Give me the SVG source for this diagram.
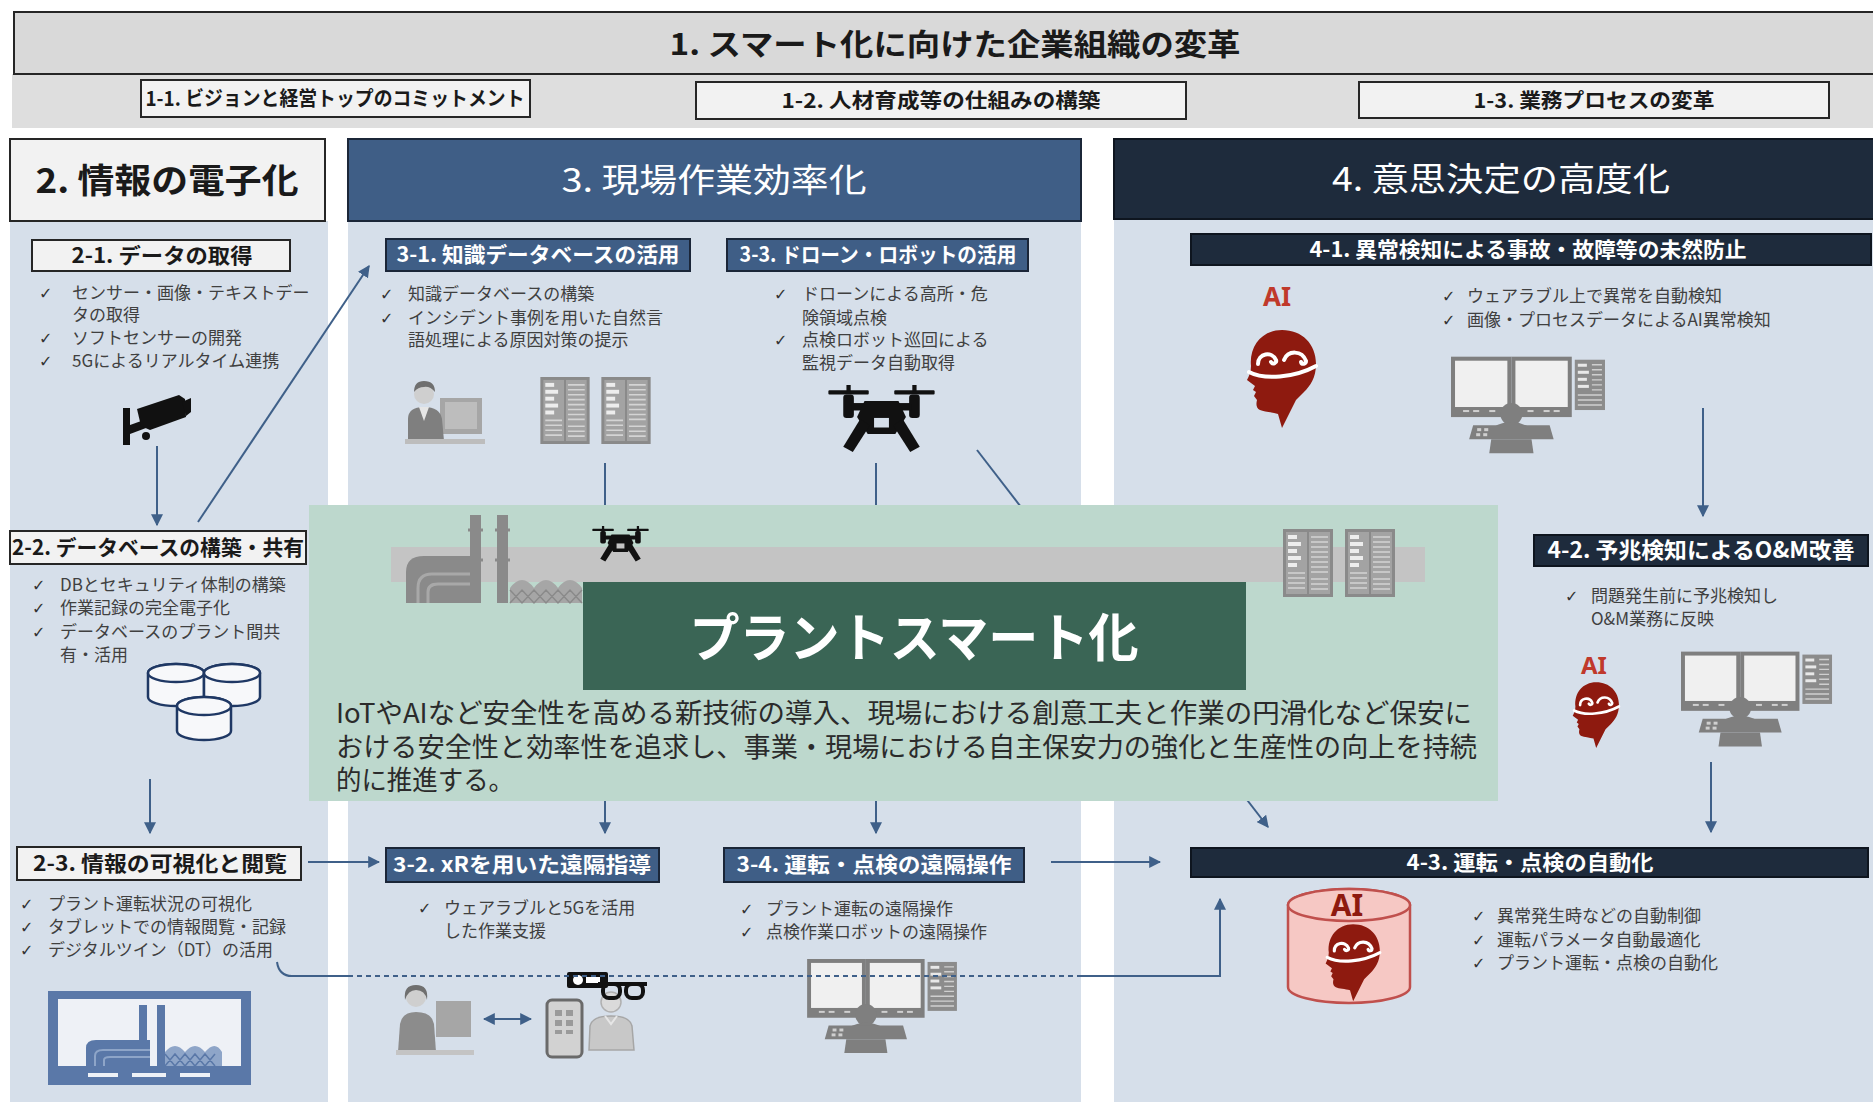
<svg xmlns="http://www.w3.org/2000/svg" width="1873" height="1102" viewBox="0 0 1873 1102">
<style>
  text{font-family:"Noto Sans CJK JP","Noto Sans",sans-serif}
  .ttl{font-weight:bold;fill:#1a1a1a;text-anchor:middle}
  .wt{font-weight:bold;fill:#ffffff;text-anchor:middle}
  .hd{font-weight:normal;fill:#ffffff;text-anchor:middle}
  .bl{font-size:17px;fill:#404040}
  .ck{font-family:"DejaVu Sans",sans-serif;font-size:16px;font-weight:bold;fill:#333333}
  .col{fill:#d6dfea}
  .wbox{fill:#f2f2f2;stroke:#262626;stroke-width:2}
  .bbox{fill:#3f5e86;stroke:#1b2638;stroke-width:2}
  .nbox{fill:#1e2b3c;stroke:#0e151f;stroke-width:2}
  .cn{fill:none;stroke:#3f6089;stroke-width:2}
  .ai{font-family:"Noto Sans","DejaVu Sans",sans-serif;font-weight:bold;text-anchor:middle}
</style>
<defs>
  <marker id="ah" viewBox="0 0 10 10" refX="9" refY="5" markerWidth="6" markerHeight="6" orient="auto-start-reverse">
    <path d="M0,0 L10,5 L0,10 Z" fill="#3f6089"/>
  </marker>
  <!-- quadcopter -->
  <symbol id="drone" viewBox="0 0 100 64">
    <rect x="0" y="5" width="38" height="4" rx="1"/>
    <rect x="62" y="5" width="38" height="4" rx="1"/>
    <rect x="17" y="0" width="4" height="6"/>
    <rect x="79" y="0" width="4" height="6"/>
    <rect x="14" y="9" width="10" height="22" rx="3"/>
    <rect x="76" y="9" width="10" height="22" rx="3"/>
    <rect x="22" y="17" width="56" height="7"/>
    <path d="M34,15 L66,15 L73,30 L63,46 L37,46 L27,30 Z"/>
    <rect x="43" y="31" width="14" height="9" fill="currentColor"/>
    <path d="M30,32 L14,58 L23,63 L39,38 Z"/>
    <path d="M70,32 L86,58 L77,63 L61,38 Z"/>
  </symbol>
  <!-- server cabinet -->
  <symbol id="rack" viewBox="0 0 50 68">
    <rect width="50" height="68" fill="#8a8a8a"/>
    <rect x="3" y="3" width="21" height="62" fill="#a3a3a3"/>
    <rect x="26" y="3" width="21" height="62" fill="#a3a3a3"/>
    <g fill="#ededed">
      <rect x="5" y="6" width="9" height="4"/><rect x="5" y="13" width="13" height="4"/>
      <rect x="5" y="20" width="9" height="4"/><rect x="5" y="27" width="13" height="4"/>
      <rect x="5" y="34" width="9" height="4"/>
    </g>
    <g stroke="#d4d4d4" stroke-width="1.6">
      <path d="M28,8 H45 M28,13 H45 M28,18 H45 M28,23 H45 M28,28 H45 M28,33 H45 M28,38 H45 M28,43 H45"/>
      <path d="M5,44 H22 M5,49 H22 M5,54 H22 M5,59 H22 M28,50 H45 M28,55 H45 M28,60 H45"/>
    </g>
  </symbol>
  <!-- operator at a control desk -->
  <symbol id="desk" viewBox="0 0 155 96">
    <rect x="2" y="2" width="56" height="56" fill="#f0f0f0" stroke="#7f7f7f" stroke-width="4"/>
    <rect x="62" y="2" width="56" height="56" fill="#f0f0f0" stroke="#7f7f7f" stroke-width="4"/>
    <rect x="2" y="50" width="56" height="8" fill="#7f7f7f"/>
    <rect x="62" y="50" width="56" height="8" fill="#7f7f7f"/>
    <g fill="#d0d0d0"><rect x="12" y="53" width="6" height="2"/><rect x="22" y="53" width="6" height="2"/><rect x="38" y="53" width="6" height="2"/><rect x="76" y="53" width="6" height="2"/><rect x="92" y="53" width="6" height="2"/><rect x="102" y="53" width="6" height="2"/></g>
    <rect x="123" y="3" width="30" height="50" fill="#8c8c8c"/>
    <g fill="#e8e8e8"><rect x="126" y="7" width="9" height="3"/><rect x="126" y="14" width="11" height="3"/><rect x="126" y="21" width="9" height="3"/><rect x="126" y="28" width="11" height="3"/></g>
    <path d="M140,8 H150 M140,13 H150 M140,18 H150 M140,23 H150 M140,28 H150 M140,33 H150 M126,38 H150 M126,43 H150 M126,48 H150" stroke="#cfcfcf" stroke-width="1.4"/>
    <circle cx="60" cy="57" r="11" fill="#7f7f7f"/>
    <path d="M42,70 Q60,60 78,70 Z" fill="#7f7f7f"/>
    <path d="M22,68 L98,68 L102,82 L18,82 Z" fill="#7f7f7f"/>
    <g fill="#cfcfcf"><rect x="26" y="71" width="4" height="3"/><rect x="33" y="71" width="4" height="3"/><rect x="25" y="76" width="4" height="3"/><rect x="32" y="76" width="4" height="3"/></g>
    <path d="M40,82 L80,82 L82,96 L38,96 Z" fill="#7f7f7f"/>
  </symbol>
  <!-- head profile with brain outline -->
  <symbol id="aihead" viewBox="0 0 84 100">
    <path d="M46,2 C66,2 80,16 80,36 C80,50 74,58 68,64 L60,72 L46,100 L42,86 C36,84 28,84 24,82 C20,80 20,76 21,72 L18,68 L20,64 L17,62 L19,58 L11,52 C13,48 15,44 15,38 C13,18 26,2 46,2 Z" fill="#8e1a0f"/>
    <g fill="none" stroke="#ffffff" stroke-width="4" stroke-linecap="round">
      <path d="M13,44 C28,52 58,50 80,38"/>
      <path d="M22,36 C22,25 36,23 40,32 C41,35 37,37 35,34"/>
      <path d="M48,32 C52,22 66,22 70,33 C70,36 66,37 65,34"/>
    </g>
  </symbol>
</defs>

<!-- 1. organisation band -->
<g id="n1">
  <rect x="12" y="74" width="1861" height="54" fill="#dedede"/>
  <rect x="14" y="12" width="1870" height="62" fill="#d9d9d9" stroke="#262626" stroke-width="2"/>
  <text x="955" y="55" class="ttl" font-size="30" textLength="571" lengthAdjust="spacingAndGlyphs">1. スマート化に向けた企業組織の変革</text>
</g>
<g id="n1-1">
  <rect x="141" y="80" width="389" height="37" class="wbox"/>
  <text x="335" y="106" class="ttl" font-size="20" textLength="379" lengthAdjust="spacingAndGlyphs">1-1. ビジョンと経営トップのコミットメント</text>
</g>
<g id="n1-2">
  <rect x="696" y="82" width="490" height="37" class="wbox"/>
  <text x="941" y="108" class="ttl" font-size="20" textLength="319" lengthAdjust="spacingAndGlyphs">1-2. 人材育成等の仕組みの構築</text>
</g>
<g id="n1-3">
  <rect x="1359" y="82" width="470" height="36" class="wbox"/>
  <text x="1594" y="108" class="ttl" font-size="20" textLength="241" lengthAdjust="spacingAndGlyphs">1-3. 業務プロセスの変革</text>
</g>

<!-- column backgrounds -->
<g id="columns">
  <rect x="10" y="221" width="318" height="881" class="col"/>
  <rect x="348" y="221" width="733" height="881" class="col"/>
  <rect x="1114" y="219" width="759" height="883" class="col"/>
</g>

<!-- 2. digitalisation -->
<g id="n2">
  <rect x="10" y="139" width="315" height="82" class="wbox"/>
  <text x="167" y="193" class="ttl" font-size="34" textLength="263" lengthAdjust="spacingAndGlyphs">2. 情報の電子化</text>
</g>
<g id="n2-1">
  <rect x="32" y="240" width="258" height="31" class="wbox"/>
  <text x="162" y="263" class="ttl" font-size="21" textLength="181" lengthAdjust="spacingAndGlyphs">2-1. データの取得</text>
  <text x="39" y="299" class="ck">✓</text><text x="72" y="299" class="bl">センサー・画像・テキストデー</text>
  <text x="72" y="321" class="bl">タの取得</text>
  <text x="39" y="344" class="ck">✓</text><text x="72" y="344" class="bl">ソフトセンサーの開発</text>
  <text x="39" y="367" class="ck">✓</text><text x="72" y="367" class="bl">5Gによるリアルタイム連携</text>
  <g id="icon-camera" fill="#111111">
    <rect x="123" y="408" width="7" height="37"/>
    <path d="M130,425 L144,420 L146,428 L130,434 Z"/>
    <path d="M137,409 L179,395 L185,399 L186,417 L150,430 L141,426 Z"/>
    <path d="M182,402 L191,398 L191,412 L186,416 Z"/>
    <circle cx="146" cy="436" r="4"/>
  </g>
</g>
<g id="n2-2">
  <rect x="10" y="531" width="296" height="33" class="wbox"/>
  <text x="158" y="555" class="ttl" font-size="21" textLength="292" lengthAdjust="spacingAndGlyphs">2-2. データベースの構築・共有</text>
  <text x="32" y="591" class="ck">✓</text><text x="60" y="591" class="bl">DBとセキュリティ体制の構築</text>
  <text x="32" y="614" class="ck">✓</text><text x="60" y="614" class="bl">作業記録の完全電子化</text>
  <text x="32" y="638" class="ck">✓</text><text x="60" y="638" class="bl">データベースのプラント間共</text>
  <text x="60" y="661" class="bl">有・活用</text>
  <g id="icon-db" fill="#f7f8fa" stroke="#1f3864" stroke-width="2.5">
    <path d="M148,673 L148,697 A28,9 0 0 0 204,697 L204,673 A28,9 0 0 0 148,673 Z"/>
    <ellipse cx="176" cy="673" rx="28" ry="9"/>
    <path d="M204,673 L204,697 A28,9 0 0 0 260,697 L260,673 A28,9 0 0 0 204,673 Z"/>
    <ellipse cx="232" cy="673" rx="28" ry="9"/>
    <path d="M177,706 L177,731 A27,9 0 0 0 231,731 L231,706 A27,9 0 0 0 177,706 Z"/>
    <ellipse cx="204" cy="706" rx="27" ry="9"/>
  </g>
</g>
<g id="n2-3">
  <rect x="17" y="847" width="284" height="33" class="wbox"/>
  <text x="160" y="871" class="ttl" font-size="21" textLength="254" lengthAdjust="spacingAndGlyphs">2-3. 情報の可視化と閲覧</text>
  <text x="20" y="910" class="ck">✓</text><text x="48" y="910" class="bl">プラント運転状況の可視化</text>
  <text x="20" y="933" class="ck">✓</text><text x="48" y="933" class="bl">タブレットでの情報閲覧・記録</text>
  <text x="20" y="956" class="ck">✓</text><text x="48" y="956" class="bl">デジタルツイン（DT）の活用</text>
  <g id="icon-dt">
    <rect x="48" y="991" width="203" height="94" fill="#5a78a8"/>
    <rect x="58" y="999" width="183" height="67" fill="#eef1f6"/>
    <g fill="#eef1f6"><rect x="88" y="1073" width="30" height="4"/><rect x="132" y="1073" width="34" height="4"/><rect x="180" y="1073" width="30" height="4"/></g>
    <rect x="139" y="1005" width="8" height="61" fill="#5a78a8"/>
    <rect x="157" y="1005" width="8" height="61" fill="#5a78a8"/>
    <path d="M86,1066 L86,1048 Q86,1040 96,1040 L150,1040 L150,1066 Z" fill="#5a78a8"/>
    <path d="M95,1066 L95,1056 Q95,1050 103,1050 L150,1050 M104,1066 L104,1060 Q104,1057 110,1057 L150,1057" fill="none" stroke="#8ea5c8" stroke-width="2"/>
    <path d="M165,1066 L165,1052 Q175,1040 185,1052 Q195,1040 205,1052 Q215,1040 222,1052 L222,1066 Z" fill="#8ea5c8"/>
    <path d="M165,1054 L175,1066 L185,1054 L195,1066 L205,1054 L215,1066 M165,1066 L175,1054 L185,1066 L195,1054 L205,1066 L215,1054" fill="none" stroke="#5a78a8" stroke-width="1.5"/>
  </g>
</g>

<!-- 3. field work efficiency -->
<g id="n3">
  <rect x="348" y="139" width="733" height="82" class="bbox"/>
  <text x="714" y="192" class="hd" font-size="33" textLength="305" lengthAdjust="spacingAndGlyphs">3. 現場作業効率化</text>
</g>
<g id="n3-1">
  <rect x="386" y="239" width="304" height="32" class="bbox"/>
  <text x="538" y="262" class="wt" font-size="21" textLength="283" lengthAdjust="spacingAndGlyphs">3-1. 知識データベースの活用</text>
  <text x="380" y="300" class="ck">✓</text><text x="408" y="300" class="bl">知識データベースの構築</text>
  <text x="380" y="324" class="ck">✓</text><text x="408" y="324" class="bl">インシデント事例を用いた自然言</text>
  <text x="408" y="346" class="bl">語処理による原因対策の提示</text>
  <g id="icon-office">
    <rect x="440" y="398" width="42" height="36" fill="#a6a6a6"/>
    <rect x="445" y="402" width="32" height="27" fill="#bdbdbd"/>
    <path d="M408,441 L408,419 Q408,407 424,407 Q440,407 442,419 L444,441 Z" fill="#7f7f7f"/>
    <path d="M419,407 L424,421 L429,407 Z" fill="#e6e6e6"/>
    <circle cx="424" cy="394" r="10" fill="#cfcfcf"/>
    <path d="M414,392 Q414,381 424,381 Q435,381 435,392 Q430,386 424,387 Q418,387 414,392 Z" fill="#6f6f6f"/>
    <rect x="405" y="439" width="80" height="5" fill="#bdbdbd"/>
  </g>
  <use href="#rack" x="540" y="377" width="50" height="67"/>
  <use href="#rack" x="601" y="377" width="50" height="67"/>
</g>
<g id="n3-3">
  <rect x="727" y="239" width="301" height="32" class="bbox"/>
  <text x="878" y="262" class="wt" font-size="21" textLength="277" lengthAdjust="spacingAndGlyphs">3-3. ドローン・ロボットの活用</text>
  <text x="774" y="300" class="ck">✓</text><text x="802" y="300" class="bl">ドローンによる高所・危</text>
  <text x="802" y="324" class="bl">険領域点検</text>
  <text x="774" y="346" class="ck">✓</text><text x="802" y="346" class="bl">点検ロボット巡回による</text>
  <text x="802" y="369" class="bl">監視データ自動取得</text>
  <use href="#drone" x="819" y="385" width="125" height="68" fill="#111111" color="#d6dfea"/>
</g>
<g id="n3-2">
  <rect x="386" y="848" width="273" height="34" class="bbox"/>
  <text x="522" y="872" class="wt" font-size="21" textLength="258" lengthAdjust="spacingAndGlyphs">3-2. xRを用いた遠隔指導</text>
  <text x="418" y="914" class="ck">✓</text><text x="444" y="914" class="bl">ウェアラブルと5Gを活用</text>
  <text x="444" y="937" class="bl">した作業支援</text>
  <g id="icon-remote-guide">
    <rect x="436" y="1001" width="35" height="36" fill="#a6a6a6"/>
    <path d="M398,1052 L400,1024 Q402,1012 416,1012 Q432,1012 434,1024 L436,1052 Z" fill="#8c8c8c"/>
    <circle cx="416" cy="997" r="10" fill="#cfcfcf"/>
    <path d="M405,1000 Q403,985 416,985 Q429,985 427,1000 Q425,990 416,990 Q408,990 405,1000 Z" fill="#6f6f6f"/>
    <rect x="396" y="1050" width="78" height="5" fill="#c4c4c4"/>
    <rect x="547" y="1000" width="35" height="57" rx="5" fill="#d2d2d2" stroke="#6a6a6a" stroke-width="3"/>
    <g fill="#9a9a9a"><rect x="555" y="1010" width="7" height="6"/><rect x="566" y="1010" width="7" height="6"/><rect x="555" y="1020" width="7" height="6"/><rect x="566" y="1020" width="7" height="6"/><rect x="555" y="1030" width="7" height="4"/><rect x="566" y="1030" width="7" height="4"/></g>
    <path d="M589,1050 L590,1026 Q592,1016 611,1016 Q630,1016 632,1026 L634,1050 Z" fill="#c8c8c8" stroke="#a6a6a6" stroke-width="1.5"/>
    <path d="M605,1016 L611,1024 L617,1016" fill="none" stroke="#e6e6e6" stroke-width="2"/>
    <circle cx="611" cy="1002" r="10" fill="#dadada" stroke="#b0b0b0" stroke-width="1.5"/>
    <rect x="567" y="972" width="41" height="16" rx="2" fill="#111111"/>
    <circle cx="578" cy="980" r="5" fill="#ffffff"/>
    <rect x="586" y="977" width="14" height="6" fill="#ffffff"/>
    <g fill="none" stroke="#111111" stroke-width="4">
      <path d="M598,984 L647,984"/>
      <rect x="603" y="984" width="17" height="14" rx="6"/>
      <rect x="626" y="984" width="17" height="14" rx="6"/>
    </g>
  </g>
</g>
<g id="n3-4">
  <rect x="724" y="848" width="300" height="34" class="bbox"/>
  <text x="874" y="872" class="wt" font-size="21" textLength="275" lengthAdjust="spacingAndGlyphs">3-4. 運転・点検の遠隔操作</text>
  <text x="740" y="915" class="ck">✓</text><text x="766" y="915" class="bl">プラント運転の遠隔操作</text>
  <text x="740" y="938" class="ck">✓</text><text x="766" y="938" class="bl">点検作業ロボットの遠隔操作</text>
  <use href="#desk" x="807" y="959" width="152" height="94"/>
</g>

<!-- 4. advanced decision making -->
<g id="n4">
  <rect x="1114" y="139" width="770" height="80" class="nbox"/>
  <text x="1501" y="191" class="hd" font-size="33" textLength="338" lengthAdjust="spacingAndGlyphs">4. 意思決定の高度化</text>
</g>
<g id="n4-1">
  <rect x="1191" y="234" width="680" height="31" class="nbox"/>
  <text x="1528" y="257" class="wt" font-size="21" textLength="437" lengthAdjust="spacingAndGlyphs">4-1. 異常検知による事故・故障等の未然防止</text>
  <text x="1277" y="306" class="ai" font-size="26" fill="#c0392b">AI</text>
  <use href="#aihead" x="1236" y="328" width="84" height="100"/>
  <text x="1442" y="302" class="ck">✓</text><text x="1467" y="302" class="bl">ウェアラブル上で異常を自動検知</text>
  <text x="1442" y="326" class="ck">✓</text><text x="1467" y="326" class="bl">画像・プロセスデータによるAI異常検知</text>
  <use href="#desk" x="1451" y="356" width="156" height="98"/>
</g>
<g id="n4-2">
  <rect x="1534" y="535" width="334" height="31" class="nbox"/>
  <text x="1701" y="558" class="wt" font-size="22" textLength="307" lengthAdjust="spacingAndGlyphs">4-2. 予兆検知によるO&amp;M改善</text>
  <text x="1565" y="602" class="ck">✓</text><text x="1591" y="602" class="bl">問題発生前に予兆検知し</text>
  <text x="1591" y="625" class="bl">O&amp;M業務に反映</text>
  <text x="1594" y="674" class="ai" font-size="24" fill="#c0392b">AI</text>
  <use href="#aihead" x="1565" y="681" width="57" height="67"/>
  <use href="#desk" x="1681" y="651" width="153" height="96"/>
</g>
<g id="n4-3">
  <rect x="1191" y="848" width="677" height="29" class="nbox"/>
  <text x="1530" y="870" class="wt" font-size="21" textLength="247" lengthAdjust="spacingAndGlyphs">4-3. 運転・点検の自動化</text>
  <g id="icon-ai-db">
    <path d="M1288,905 L1288,987 A61,16 0 0 0 1410,987 L1410,905 A61,16 0 0 0 1288,905 Z" fill="#f6c8c4" stroke="#c0504d" stroke-width="2.5"/>
    <ellipse cx="1349" cy="905" rx="61" ry="16" fill="#f6c8c4" stroke="#c0504d" stroke-width="2.5"/>
    <text x="1347" y="916" class="ai" font-size="30" fill="#8e1a0f">AI</text>
    <use href="#aihead" x="1317" y="922" width="66" height="80"/>
  </g>
  <text x="1472" y="922" class="ck">✓</text><text x="1497" y="922" class="bl">異常発生時などの自動制御</text>
  <text x="1472" y="946" class="ck">✓</text><text x="1497" y="946" class="bl">運転パラメータ自動最適化</text>
  <text x="1472" y="969" class="ck">✓</text><text x="1497" y="969" class="bl">プラント運転・点検の自動化</text>
</g>

<!-- connectors -->
<g id="connectors">
  <path class="cn" d="M157,446 L157,525" marker-end="url(#ah)"/>
  <path class="cn" d="M198,522 L369,266" marker-end="url(#ah)"/>
  <path class="cn" d="M150,779 L150,833" marker-end="url(#ah)"/>
  <path class="cn" d="M308,862 L379,862" marker-end="url(#ah)"/>
  <path class="cn" d="M605,463 L605,833" marker-end="url(#ah)"/>
  <path class="cn" d="M876,463 L876,833" marker-end="url(#ah)"/>
  <path class="cn" d="M977,450 L1268,827" marker-end="url(#ah)"/>
  <path class="cn" d="M1051,862 L1160,862" marker-end="url(#ah)"/>
  <path class="cn" d="M1703,408 L1703,516" marker-end="url(#ah)"/>
  <path class="cn" d="M1711,762 L1711,832" marker-end="url(#ah)"/>
  <path class="cn" d="M484,1019 L531,1019" stroke-width="3" marker-start="url(#ah)" marker-end="url(#ah)"/>
  <path class="cn" d="M277,962 Q279,976 292,976 L348,976"/>
  <path class="cn" d="M348,976 L1081,976" stroke="#5b7bab" stroke-dasharray="5 4"/>
  <path class="cn" d="M1081,976 L1220,976 L1220,899" marker-end="url(#ah)"/>
</g>

<!-- central concept panel -->
<g id="plant-smart">
  <rect x="309" y="505" width="1189" height="296" fill="#bdd8cd"/>
  <rect x="391" y="547" width="1034" height="35" fill="#c4c4c4"/>
  <g id="icon-plant">
    <rect x="470" y="515" width="11" height="88" fill="#8a8a8a"/>
    <rect x="497" y="515" width="11" height="88" fill="#8a8a8a"/>
    <path d="M468,530 H483 M495,530 H510 M468,560 H483 M495,560 H510" stroke="#8a8a8a" stroke-width="3"/>
    <path d="M406,603 L406,572 Q406,556 424,556 L470,556 L470,603 Z" fill="#8a8a8a"/>
    <path d="M418,603 L418,588 Q418,574 432,574 L470,574 M428,603 L428,592 Q428,584 438,584 L470,584" fill="none" stroke="#a8a8a8" stroke-width="3"/>
    <path d="M510,603 L510,588 Q522,572 534,588 Q546,572 558,588 Q570,572 582,588 L582,603 Z" fill="#a6a6a6"/>
    <path d="M510,590 L522,603 L534,590 L546,603 L558,590 L570,603 L582,590 M510,603 L522,590 L534,603 L546,590 L558,603 L570,590 L582,603" fill="none" stroke="#8a8a8a" stroke-width="1.5"/>
  </g>
  <use href="#drone" x="590" y="526" width="61" height="36" fill="#111111" color="#c4c4c4"/>
  <use href="#rack" x="1282" y="529" width="52" height="68"/>
  <use href="#rack" x="1344" y="529" width="52" height="68"/>
  <rect x="583" y="582" width="663" height="108" fill="#3a6555"/>
  <text x="914" y="657" class="wt" font-size="52" textLength="449" lengthAdjust="spacingAndGlyphs">プラントスマート化</text>
  <g font-size="27" fill="#2b2b2b">
    <text x="336" y="723" textLength="1136" lengthAdjust="spacingAndGlyphs">IoTやAIなど安全性を高める新技術の導入、現場における創意工夫と作業の円滑化など保安に</text>
    <text x="336" y="757" textLength="1141" lengthAdjust="spacingAndGlyphs">おける安全性と効率性を追求し、事業・現場における自主保安力の強化と生産性の向上を持続</text>
    <text x="336" y="790" textLength="178" lengthAdjust="spacingAndGlyphs">的に推進する。</text>
  </g>
</g>
</svg>
